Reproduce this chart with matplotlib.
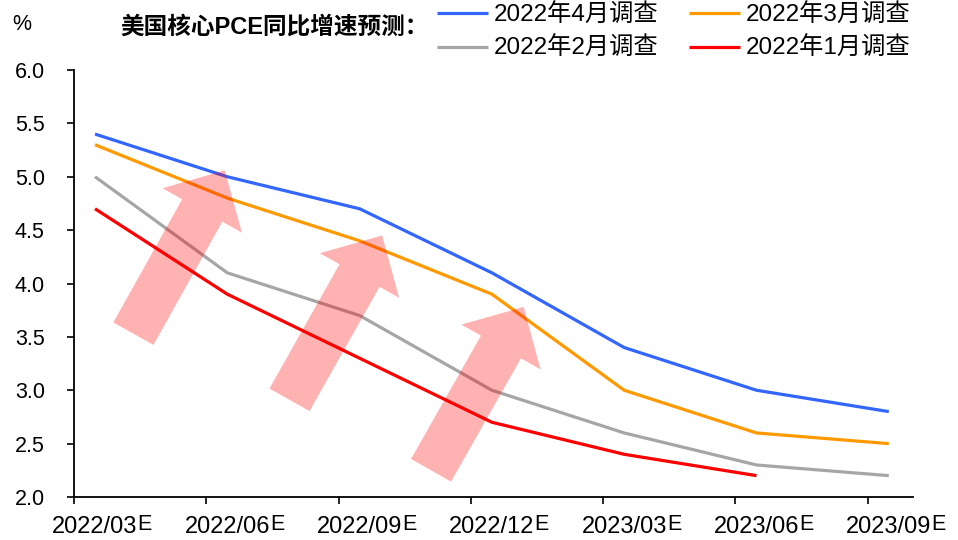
import numpy as np
import matplotlib
matplotlib.use('Agg')
import matplotlib.pyplot as plt
from matplotlib.patches import Polygon
from matplotlib.transforms import IdentityTransform

plt.rcParams['font.family'] = ['Liberation Sans', 'Noto Sans CJK SC', 'DejaVu Sans']

# data
PERIODS = ['2022/03', '2022/06', '2022/09', '2022/12', '2023/03', '2023/06', '2023/09']
APR = [5.4, 5.0, 4.7, 4.1, 3.4, 3.0, 2.8]
MAR = [5.3, 4.8, 4.4, 3.9, 3.0, 2.6, 2.5]
FEB = [5.0, 4.1, 3.7, 3.0, 2.6, 2.3, 2.2]
JAN = [4.7, 3.9, 3.3, 2.7, 2.4, 2.2]
SERIES = [('2022年4月调查', APR, '#3366FF'), ('2022年3月调查', MAR, '#FF9900'),
          ('2022年2月调查', FEB, '#A6A6A6'), ('2022年1月调查', JAN, '#FF0000')]
# decorative arrows: (tail, tip) in data units
ARROWS = [((0.29, 3.53), (0.98, 5.06)), ((1.47, 2.91), (2.17, 4.45)), ((2.54, 2.25), (3.24, 3.78))]

W, H = 958, 540
fig = plt.figure(figsize=(W / 100, H / 100), dpi=100)
ax = fig.add_axes([74 / W, 43 / H, 839 / W, 427 / H])

x = np.arange(len(PERIODS))
handles = {}
for name, vals, col in SERIES:
    ln, = ax.plot(x[:len(vals)], vals, color=col, lw=2.3, label=name, solid_capstyle='butt')
    handles[name] = ln

ax.set_xlim(-0.159, 6.183); ax.set_ylim(2.0, 6.0)
ax.set_yticks(np.arange(2.0, 6.01, 0.5))
ax.set_yticklabels([f'{v:.1f}' for v in np.arange(2.0, 6.01, 0.5)], fontsize=15.5)
ax.set_xticks(x); ax.set_xticklabels(PERIODS, fontsize=17)
ax.set_xticks(x - 0.159, minor=True)
ax.tick_params(axis='x', which='major', length=0, pad=14)
ax.tick_params(axis='x', which='minor', length=5, width=1.2, direction='out')
ax.tick_params(axis='y', length=5, width=1.2, pad=16)
for s in ['top', 'right']:
    ax.spines[s].set_visible(False)
for s in ['left', 'bottom']:
    ax.spines[s].set_linewidth(1.3)

# pink arrows drawn on top of the lines
def arrow_poly(tail, tip, shaft=23, head=45.5, hlen=46):
    p0 = ax.transData.transform(tail); p1 = ax.transData.transform(tip)
    u = (p1 - p0) / np.hypot(*(p1 - p0)); n = np.array([-u[1], u[0]])
    hb = p1 - u * hlen
    return [p0 + n * shaft, hb + n * shaft, hb + n * head, p1, hb - n * head, hb - n * shaft, p0 - n * shaft]

for tail, tip in ARROWS:
    ax.add_patch(Polygon(arrow_poly(tail, tip), closed=True, transform=IdentityTransform(),
                         facecolor='#FF0000', alpha=0.3, edgecolor='none', zorder=5))

# "E" after each x label, slightly raised
fig.canvas.draw()
for lab in ax.get_xticklabels():
    bb = lab.get_window_extent()
    base = bb.y0 + 0.21 * 17 * 100 / 72 + 3
    fig.text(bb.x1 / W, base / H, 'E', fontsize=15.5, ha='left', va='baseline')

fig.text(22 / W, 1 - 25 / H, '%', fontsize=15.5, ha='center', va='center')
fig.text(120 / W, 1 - 27 / H, '美国核心PCE同比增速预测：', fontsize=17, fontweight='bold', ha='left', va='center')
order = ['2022年4月调查', '2022年2月调查', '2022年3月调查', '2022年1月调查']
fig.legend([handles[k] for k in order], order, ncol=2, loc='upper left', bbox_to_anchor=(437 / W, 1 - 4 / H),
           frameon=False, fontsize=17.5, handlelength=2.1, handletextpad=0.25, columnspacing=1.25,
           labelspacing=0.42, borderpad=0, borderaxespad=0)

fig.savefig('out.png', dpi=100)
